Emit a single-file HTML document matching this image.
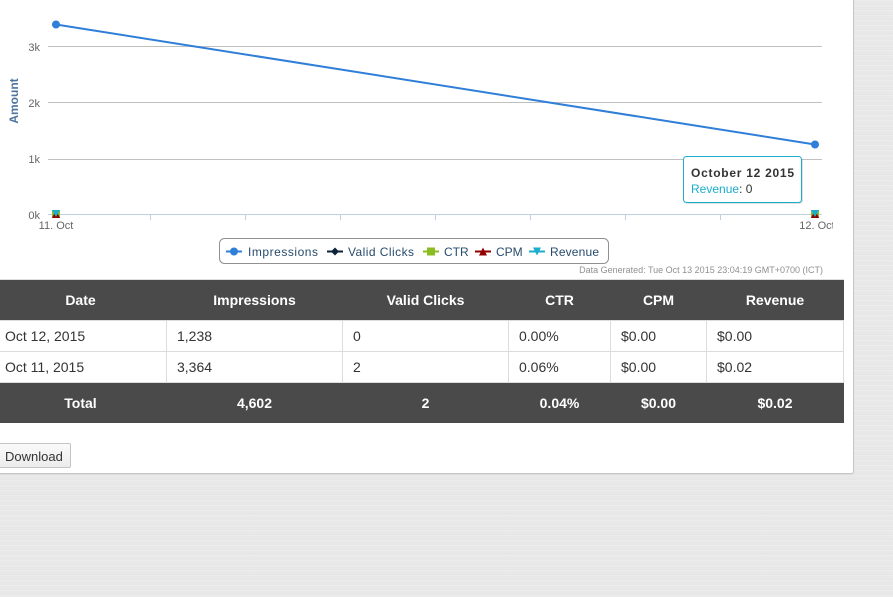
<!DOCTYPE html>
<html><head><meta charset="utf-8">
<style>
html,body{margin:0;padding:0;}
body{width:893px;height:597px;overflow:hidden;position:relative;
background-color:#e8e8e8;
background-image:repeating-linear-gradient(180deg,rgba(255,255,255,0.18) 0px,rgba(255,255,255,0.18) 1px,rgba(0,0,0,0.012) 2px,rgba(255,255,255,0.06) 3px,rgba(0,0,0,0.015) 5px);
font-family:"Liberation Sans",sans-serif;}
#panel{position:absolute;left:-10px;top:-10px;width:862px;height:482px;background:#fff;border:1px solid #c6c6c6;border-radius:3px;box-shadow:0 1px 1px rgba(0,0,0,0.05);}
svg{position:absolute;left:0;top:0;}
table{position:absolute;left:-6px;top:279px;border-collapse:collapse;font-family:"Liberation Sans",sans-serif;font-size:14px;}
td,th{padding:0;}
th{background:#4a4a4a;color:#fff;font-weight:bold;height:40px;text-align:center;}
tr.h th{border-top:1px solid #ddd;}
td{height:30px;border:1px solid #dcdcdc;color:#333;padding-left:10px;}
tr.t th{height:40px;}
#dl{position:absolute;left:-6px;top:443px;width:77px;height:25px;border:1px solid #c4c4c4;border-radius:2px;background:linear-gradient(#fafafa,#ececec);font-size:13px;color:#333;line-height:25px;box-sizing:border-box;}
#dl span{position:absolute;left:10px;top:0;}
</style></head><body>
<div id="panel"></div>
<svg width="893" height="280" xmlns="http://www.w3.org/2000/svg" font-family="Liberation Sans, sans-serif">
  <g stroke="#c0c0c0" stroke-width="1">
    <line x1="48" y1="46.5" x2="822" y2="46.5"/>
    <line x1="48" y1="102.5" x2="822" y2="102.5"/>
    <line x1="48" y1="159.5" x2="822" y2="159.5"/>
  </g>
  <line x1="48" y1="214.5" x2="822" y2="214.5" stroke="#c0d0e0"/>
  <g stroke="#c0d0e0">
    <line x1="150.5" y1="214" x2="150.5" y2="220"/>
    <line x1="245.5" y1="214" x2="245.5" y2="220"/>
    <line x1="340.5" y1="214" x2="340.5" y2="220"/>
    <line x1="435.5" y1="214" x2="435.5" y2="220"/>
    <line x1="530.5" y1="214" x2="530.5" y2="220"/>
    <line x1="625.5" y1="214" x2="625.5" y2="220"/>
    <line x1="720.5" y1="214" x2="720.5" y2="220"/>
  </g>
  <g font-size="11" fill="#666" text-anchor="end">
    <text x="40" y="51">3k</text>
    <text x="40" y="107">2k</text>
    <text x="40" y="163">1k</text>
    <text x="40" y="219">0k</text>
  </g>
  <text transform="translate(18,101) rotate(-90)" text-anchor="middle" font-size="12" font-weight="bold" fill="#4d759e">Amount</text>
  <text x="56" y="229" font-size="11" fill="#666" text-anchor="middle">11. Oct</text>
  <svg x="0" y="0" width="833" height="240"><text x="817" y="229" font-size="11" fill="#666" text-anchor="middle">12. Oct</text></svg>
  <polyline points="56,24.5 815,144.5" fill="none" stroke="#2f7ed8" stroke-width="2"/>
  <circle cx="56" cy="24.5" r="4" fill="#2f7ed8"/>
  <circle cx="815" cy="144.5" r="4" fill="#2f7ed8"/>
  <g>
    <rect x="52" y="210" width="8" height="8" fill="#8bbc21"/>
    <path d="M52,218 L56,210 L60,218Z" fill="#910000"/>
    <path d="M52,210 L60,210 L56,217Z" fill="#1aadce"/>
    <rect x="811" y="210" width="8" height="8" fill="#8bbc21"/>
    <path d="M811,218 L815,210 L819,218Z" fill="#910000"/>
    <path d="M811,210 L819,210 L815,217Z" fill="#1aadce"/>
  </g>
  <!-- tooltip -->
  <rect x="685" y="158" width="118" height="46" rx="3" fill="rgba(0,0,0,0.12)"/>
  <rect x="683.5" y="156.5" width="118" height="46" rx="3" fill="#fff" stroke="#1aadce"/>
  <text x="691" y="177" font-size="12" font-weight="bold" fill="#333" textLength="103">October 12 2015</text>
  <text x="691" y="193" font-size="12" fill="#333"><tspan fill="#1aadce">Revenue</tspan>: 0</text>
  <!-- legend -->
  <rect x="219.5" y="238.5" width="389" height="25" rx="5" fill="#fff" stroke="#909090"/>
  <g font-size="12" fill="#274b6d">
    <line x1="226" y1="251.5" x2="242" y2="251.5" stroke="#2f7ed8" stroke-width="2"/>
    <circle cx="234" cy="251.5" r="4" fill="#2f7ed8"/>
    <text x="248" y="256" textLength="70">Impressions</text>
    <line x1="327" y1="251.5" x2="343" y2="251.5" stroke="#0d233a" stroke-width="2"/>
    <path d="M335,247.5 L339,251.5 L335,255.5 L331,251.5Z" fill="#0d233a"/>
    <text x="348" y="256" textLength="66">Valid Clicks</text>
    <line x1="423" y1="251.5" x2="439" y2="251.5" stroke="#8bbc21" stroke-width="2"/>
    <rect x="427" y="247.5" width="8" height="8" fill="#8bbc21"/>
    <text x="444" y="256">CTR</text>
    <line x1="475" y1="251.5" x2="491" y2="251.5" stroke="#910000" stroke-width="2"/>
    <path d="M479,255.5 L483,247.5 L487,255.5Z" fill="#910000"/>
    <text x="496" y="256">CPM</text>
    <line x1="529" y1="251.5" x2="545" y2="251.5" stroke="#1aadce" stroke-width="2"/>
    <path d="M533,247.5 L541,247.5 L537,255.5Z" fill="#1aadce"/>
    <text x="550" y="256" textLength="49">Revenue</text>
  </g>
  <text x="823" y="273" font-size="9" fill="#909090" text-anchor="end">Data Generated: Tue Oct 13 2015 23:04:19 GMT+0700 (ICT)</text>
</svg>
<table>
  <tr class="h"><th style="width:172px">Date</th><th style="width:176px">Impressions</th><th style="width:166px">Valid Clicks</th><th style="width:102px">CTR</th><th style="width:96px">CPM</th><th style="width:137px">Revenue</th></tr>
  <tr><td>Oct 12, 2015</td><td>1,238</td><td>0</td><td>0.00%</td><td>$0.00</td><td>$0.00</td></tr>
  <tr><td>Oct 11, 2015</td><td>3,364</td><td>2</td><td>0.06%</td><td>$0.00</td><td>$0.02</td></tr>
  <tr class="t"><th>Total</th><th>4,602</th><th>2</th><th>0.04%</th><th>$0.00</th><th>$0.02</th></tr>
</table>
<div id="dl"><span>Download</span></div>
</body></html>
